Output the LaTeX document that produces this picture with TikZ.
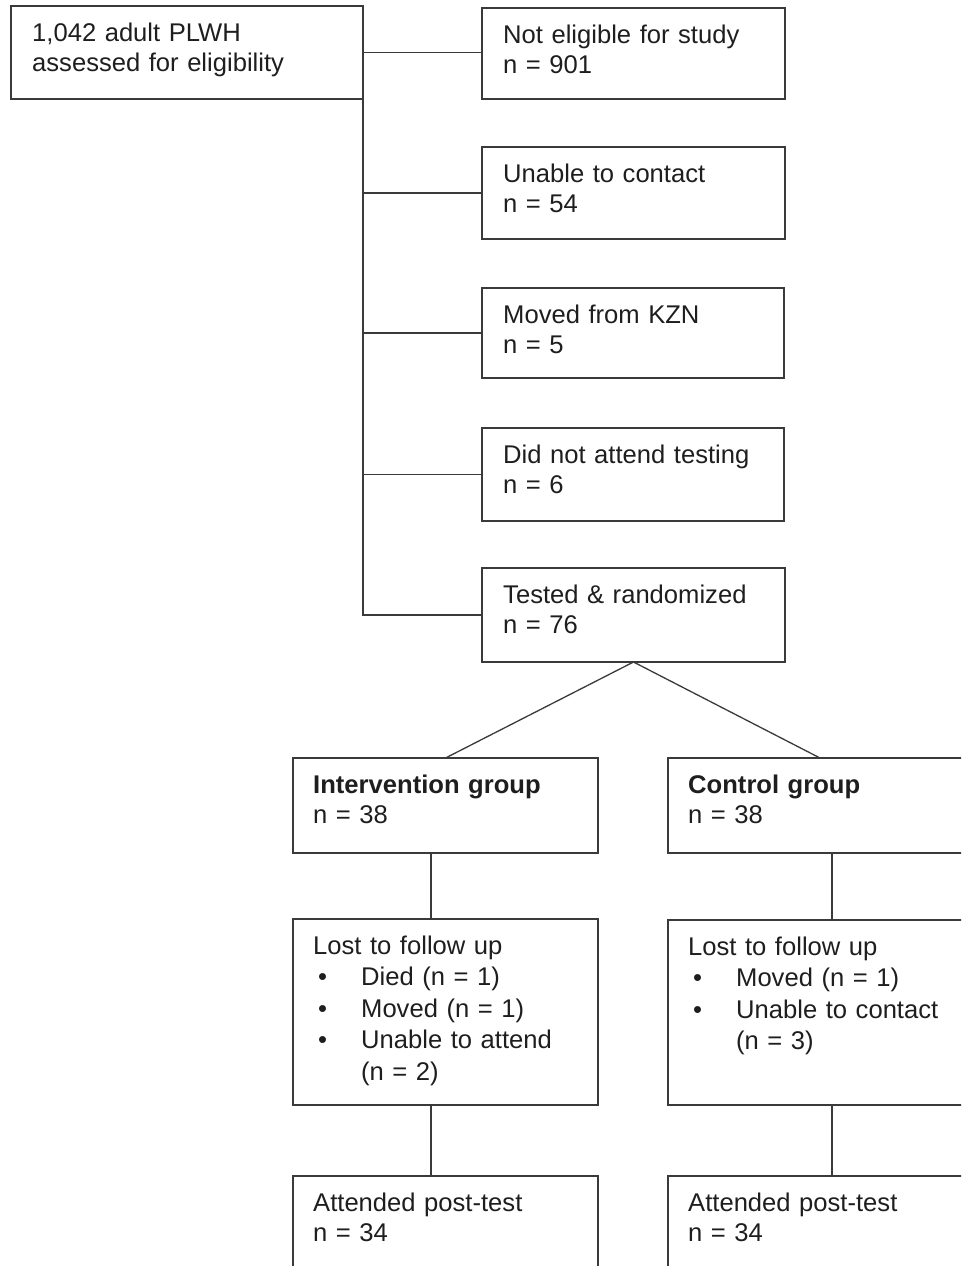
\documentclass[tikz,border=0pt]{standalone}
\usepackage{fontspec}
\setmainfont{Liberation Sans}
\usetikzlibrary{calc}
\definecolor{linec}{HTML}{3A3A3A}
\definecolor{textc}{HTML}{1E1E1E}
% bullet item: small indent, bullet, then the item text at a fixed tab
\newcommand\bulitem{\hspace*{5pt}\makebox[43pt][l]{\textbullet}}
\begin{document}
\begin{tikzpicture}[x=1pt,y=-1pt,
  box/.style={draw=linec, line width=1.3pt, rectangle, anchor=north west,
              inner sep=0pt, outer sep=0pt},
  txt/.style={anchor=base west, inner sep=0pt, text=textc, align=left,
              text width=290pt, font=\fontsize{25.6}{30}\selectfont},
  link/.style={draw=linec, line width=1.3pt}]
\useasboundingbox (0,0) rectangle (961,1266);
\clip (0,0) rectangle (961,1266);

% boxes
\node[box, minimum width=352pt, minimum height=93pt] (pop)   at (11,6) {};
\node[box, minimum width=303pt, minimum height=91pt] (inel)  at (482,8) {};
\node[box, minimum width=303pt, minimum height=92pt] (nocon) at (482,147) {};
\node[box, minimum width=302pt, minimum height=90pt] (moved) at (482,288) {};
\node[box, minimum width=302pt, minimum height=93pt] (noatt) at (482,428) {};
\node[box, minimum width=303pt, minimum height=94pt] (rand)  at (482,568) {};
\node[box, minimum width=305pt, minimum height=95pt] (intv)  at (293,758) {};
\node[box, minimum width=304pt, minimum height=95pt] (ctrl)  at (668,758) {};
\node[box, minimum width=305pt, minimum height=186pt] (lostI) at (293,919) {};
\node[box, minimum width=304pt, minimum height=185pt] (lostC) at (668,920) {};
\node[box, minimum width=305pt, minimum height=130pt] (postI) at (293,1176) {};
\node[box, minimum width=304pt, minimum height=130pt] (postC) at (668,1176) {};

% texts
\node[txt] (tpop)   at ($(pop.north west)+(21,35)$)   {1,042 adult PLWH\\assessed for eligibility};
\node[txt] (tinel)  at ($(inel.north west)+(21,35)$)  {Not eligible for study\\n = 901};
\node[txt] (tnocon) at ($(nocon.north west)+(21,35)$) {Unable to contact\\n = 54};
\node[txt] (tmoved) at ($(moved.north west)+(21,35)$) {Moved from KZN\\n = 5};
\node[txt] (tnoatt) at ($(noatt.north west)+(21,35)$) {Did not attend testing\\n = 6};
\node[txt] (trand)  at ($(rand.north west)+(21,35)$)  {Tested \& randomized\\n = 76};
\node[txt] (tintv)  at ($(intv.north west)+(20,35)$)  {\textbf{Intervention group}\\n = 38};
\node[txt] (tctrl)  at ($(ctrl.north west)+(20,35)$)  {\textbf{Control group}\\n = 38};
\node[txt, font=\fontsize{25.6}{31.5}\selectfont] (tlostI) at ($(lostI.north west)+(20,35)$)
  {Lost to follow up\\\bulitem Died (n = 1)\\\bulitem Moved (n = 1)\\\bulitem Unable to attend\\\hspace*{48pt}(n = 2)};
\node[txt, font=\fontsize{25.6}{31.5}\selectfont] (tlostC) at ($(lostC.north west)+(20,35)$)
  {Lost to follow up\\\bulitem Moved (n = 1)\\\bulitem Unable to contact\\\hspace*{48pt}(n = 3)};
\node[txt] (tpostI) at ($(postI.north west)+(20,35)$) {Attended post-test\\n = 34};
\node[txt] (tpostC) at ($(postC.north west)+(20,35)$) {Attended post-test\\n = 34};

% eligibility branch
\draw[link] (pop.south east) -- (pop.south east |- rand.west) -- (rand.west);
\draw[link] (pop.east) -- (pop.east -| inel.west);
\draw[link] (pop.south east |- nocon.west) -- (nocon.west);
\draw[link] (pop.south east |- moved.west) -- (moved.west);
\draw[link] (pop.south east |- noatt.west) -- (noatt.west);

% randomisation
\draw[link] (rand.south) -- (intv.north);
\draw[link] (rand.south) -- (ctrl.north);

% follow-up arms
\coordinate (armI) at ($(intv.south west)+(138,0)$);
\coordinate (armC) at ($(ctrl.south west)+(164,0)$);
\draw[link] (armI) -- (armI |- lostI.north);
\draw[link] (armC) -- (armC |- lostC.north);
\draw[link] (armI |- lostI.south) -- (armI |- postI.north);
\draw[link] (armC |- lostC.south) -- (armC |- postC.north);
\end{tikzpicture}
\end{document}
